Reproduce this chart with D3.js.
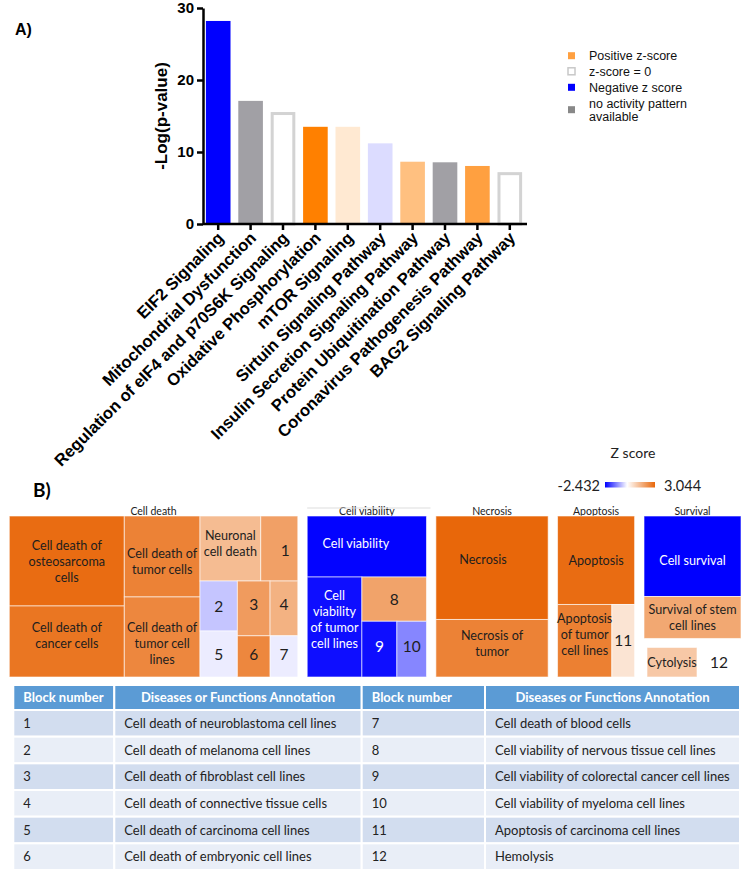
<!DOCTYPE html>
<html><head><meta charset="utf-8">
<script src="https://cdn.jsdelivr.net/npm/d3@7"></script>
<style>body{margin:0;background:#fff} svg{display:block}</style>
</head><body>
<svg id="c" width="747" height="872"></svg>
<script>
// ---------- Panel A data ----------
const pathways = ["EIF2 Signaling","Mitochondrial Dysfunction","Regulation of eIF4 and p70S6K Signaling","Oxidative Phosphorylation","mTOR Signaling","Sirtuin Signaling Pathway","Insulin Secretion Signaling Pathway","Protein Ubiquitination Pathway","Coronavirus Pathogenesis Pathway","BAG2 Signaling Pathway"];
const negLogP = [28.2, 17.1, 15.55, 13.5, 13.5, 11.2, 8.65, 8.57, 8.06, 7.2];
const pathwayZ = [-4.4, null, 0, 4.0, 0.7, -0.6, 2.0, null, 3.0, 0];
const yTicks = [0, 10, 20, 30];
const legendLabels = [["Positive z-score"],["z-score = 0"],["Negative z score"],["no activity pattern","available"]];
const legendKinds = ["pos","zero","neg","none"];

// ---------- Panel B data ----------
const zDomain = [-2.432, 3.044];
const cellDeath = {name:"Cell death", split:"x", children:[
  {split:"y", children:[
    {name:"Cell death of osteosarcoma cells", lines:["Cell death of","osteosarcoma","cells"], size:103.5, z:2.95},
    {name:"Cell death of cancer cells", lines:["Cell death of","cancer cells"], size:81.7, z:2.75}]},
  {split:"y", children:[
    {name:"Cell death of tumor cells", lines:["Cell death of","tumor cells"], size:61.3, z:2.5},
    {name:"Cell death of tumor cell lines", lines:["Cell death of","tumor cell","lines"], size:60.6, z:2.4}]},
  {split:"y", children:[
    {split:"x", children:[
      {name:"Neuronal cell death", lines:["Neuronal","cell death"], size:39.5, z:1.35},
      {name:"1", lines:["1"], size:24.1, z:1.9}]},
    {split:"x", children:[
      {split:"y", children:[
        {name:"2", lines:["2"], size:18.7, z:-0.55},
        {name:"5", lines:["5"], size:17.2, z:-0.18}]},
      {split:"y", children:[
        {split:"x", children:[
          {name:"3", lines:["3"], size:17.9, z:2.0},
          {name:"4", lines:["4"], size:15.2, z:1.55}]},
        {split:"x", children:[
          {name:"6", lines:["6"], size:13.5, z:2.4},
          {name:"7", lines:["7"], size:11.4, z:-0.18}]}]}]}]}]};
const cellViability = {name:"Cell viability", split:"y", children:[
  {name:"Cell viability", lines:["Cell viability"], size:72.8, z:-2.4},
  {split:"x", children:[
    {name:"Cell viability of tumor cell lines", lines:["Cell","viability","of tumor","cell lines"], size:54.7, z:-2.3},
    {split:"y", children:[
      {name:"8", lines:["8"], size:28.6, z:1.85},
      {split:"x", children:[
        {name:"9", lines:["9"], size:19.5, z:-2.3},
        {name:"10", lines:["10"], size:16.5, z:-1.15}]}]}]}]};
const necrosis = {name:"Necrosis", split:"y", children:[
  {name:"Necrosis", lines:["Necrosis"], size:116.2, z:3.044},
  {name:"Necrosis of tumor", lines:["Necrosis of","tumor"], size:64.6, z:2.5}]};
const apoptosis = {name:"Apoptosis", split:"y", children:[
  {name:"Apoptosis", lines:["Apoptosis"], size:68.2, z:2.95},
  {split:"x", children:[
    {name:"Apoptosis of tumor cell lines", lines:["Apoptosis","of tumor","cell lines"], size:39.4, z:2.55},
    {name:"11", lines:["11"], size:16.5, z:0.55}]}]};
const survival = {name:"Survival", split:"y", children:[
  {name:"Cell survival", lines:["Cell survival"], size:78.1, z:-2.432},
  {name:"Survival of stem cell lines", lines:["Survival of stem","cell lines"], size:40.7, z:1.75},
  {split:"x", inset:true, children:[
    {name:"Cytolysis", lines:["Cytolysis"], size:19.9, z:1.1},
    {name:"12", lines:["12"], size:17.5, z:0}]}]};

// ---------- Table data ----------
const tableHeaders = ["Block number","Diseases or Functions Annotation"];
const blockNumbers = [1,2,3,4,5,6,7,8,9,10,11,12];
const blockAnnotations = ["Cell death of neuroblastoma cell lines","Cell death of melanoma cell lines","Cell death of fibroblast cell lines","Cell death of connective tissue cells","Cell death of carcinoma cell lines","Cell death of embryonic cell lines","Cell death of blood cells","Cell viability of nervous tissue cell lines","Cell viability of colorectal cancer cell lines","Cell viability of myeloma cell lines","Apoptosis of carcinoma cell lines","Hemolysis"];

const svg = d3.select("#c");
const AR = "'Liberation Sans', Arial, sans-serif";
const CAL = "Lato, 'Open Sans', sans-serif";

// ================= Panel A =================
svg.append("text").attr("x",15).attr("y",35).attr("font-family",AR).attr("font-weight","bold")
  .attr("font-size",16).text("A)");

const x = d3.scaleBand().domain(pathways).range([202, 526]).paddingInner(0.24).paddingOuter(0.12);
const y = d3.scaleLinear().domain([0, 30]).range([224, 8]);

function barFill(z){
  if (z === null) return "#a1a0a5";
  if (z === 0) return "#ffffff";
  return z > 0 ? d3.interpolateRgb("#ffffff","#ff8000")(z/4.0) : d3.interpolateRgb("#ffffff","#0000ff")(-z/4.4);
}
const bars = pathways.map((p,i)=>({p, v:negLogP[i], z:pathwayZ[i]}));
svg.append("g").selectAll("rect").data(bars).join("rect")
  .attr("x", d => x(d.p) + (d.z===0 ? 1.5 : 0))
  .attr("width", d => x.bandwidth() - (d.z===0 ? 3 : 0))
  .attr("y", d => y(d.v) + (d.z===0 ? 1.5 : 0))
  .attr("height", d => y(0) - y(d.v) - (d.z===0 ? 1.5 : 0))
  .attr("fill", d => barFill(d.z))
  .attr("stroke", d => d.z===0 ? "#d3d3d3" : "none")
  .attr("stroke-width", 3);

const yAxis = svg.append("g").attr("transform","translate(203,0)")
  .call(d3.axisLeft(y).tickValues(yTicks).tickSize(6).tickSizeOuter(0).tickPadding(3));
yAxis.selectAll("path,line").attr("stroke","#000").attr("stroke-width",2.5);
yAxis.selectAll("text").attr("font-family",AR).attr("font-weight","bold").attr("font-size",15).attr("fill","#000");

const xAxis = svg.append("g").attr("transform","translate(0,224)")
  .call(d3.axisBottom(x).tickSize(6).tickSizeOuter(0));
xAxis.select(".domain").attr("d","M203,0H527");
xAxis.selectAll("path,line").attr("stroke","#000").attr("stroke-width",2.5);
xAxis.selectAll("text").attr("x",0).attr("y",0).attr("dy",0)
  .attr("text-anchor","end").attr("transform","translate(6.5,15) rotate(-45)")
  .attr("font-family",AR).attr("font-weight","bold").attr("font-size",16.6).attr("fill","#000");

svg.append("text").attr("transform","translate(167,116) rotate(-90)")
  .attr("text-anchor","middle").attr("font-family",AR).attr("font-weight","bold").attr("font-size",17)
  .text("-Log(p-value)");

// legend
const legColor = {pos:"#ffa040", zero:"#ffffff", neg:"#0000ff", none:"#888888"};
const legY = [55.7, 71.3, 87.3, 109.7];
legendKinds.forEach((k,i)=>{
  svg.append("rect").attr("x",568).attr("y",legY[i]-3.5).attr("width",7).attr("height",7)
    .attr("fill",legColor[k]).attr("stroke", k==="zero" ? "#c8c8c8" : "none").attr("stroke-width",1.5);
  const lines = legendLabels[i];
  const t = svg.append("text").attr("font-family",AR).attr("font-size",12.5).attr("fill","#111");
  lines.forEach((ln,j)=>{
    t.append("tspan").attr("x",589).attr("y", legY[i] + 4.5 - (lines.length-1)*6.5 + j*13).text(ln);
  });
});

// ================= Panel B =================
svg.append("text").attr("x",33).attr("y",497).attr("font-family",CAL).attr("font-weight","bold")
  .attr("font-size",19).text("B)");

// Z score legend
svg.append("text").attr("x",633).attr("y",458).attr("text-anchor","middle").attr("font-family",CAL)
  .attr("font-size",14).attr("fill","#222").text("Z score");
const defs = svg.append("defs");
const grad = defs.append("linearGradient").attr("id","zg");
const color = d3.scaleLinear().domain([zDomain[0], 0, zDomain[1]]).range(["#0000ff","#ffffff","#e8670a"]).clamp(true);
[zDomain[0], 0, zDomain[1]].forEach(v=>{
  grad.append("stop").attr("offset", ((v - zDomain[0])/(zDomain[1]-zDomain[0])*100)+"%").attr("stop-color", color(v));
});
svg.append("rect").attr("x",605).attr("y",482).attr("width",50).attr("height",5.5).attr("fill","url(#zg)");
svg.append("text").attr("x",600).attr("y",491).attr("text-anchor","end").attr("font-family",CAL)
  .attr("font-size",14.5).attr("fill","#222").text(zDomain[0].toFixed(3));
svg.append("text").attr("x",664).attr("y",491).attr("font-family",CAL)
  .attr("font-size",14.5).attr("fill","#222").text(zDomain[1].toFixed(3));

// treemap
const GAP = 9.4;
function tile(node, x0, y0, x1, y1){
  if (node.depth === 0){
    const k = (x1 - x0 - GAP*(node.children.length-1)) / node.value;
    let cx = x0;
    node.children.forEach(c=>{ c.x0 = cx; c.x1 = cx + c.value*k; c.y0 = y0; c.y1 = y1; cx = c.x1 + GAP; });
    return;
  }
  (node.data.split === "x" ? d3.treemapDice : d3.treemapSlice)(node, x0, y0, x1, y1);
}
const root = d3.hierarchy({children:[cellDeath, cellViability, necrosis, apoptosis, survival]})
  .sum(d => d.children ? 0 : d.size);
d3.treemap().tile(tile).size([731.7, 172]).round(false)
  .paddingTop(n => n.depth===1 ? 11 : (n.data.inset ? 9 : 0))
  .paddingLeft(n => n.data.inset ? 3 : 0)
  (root);

const tm = svg.append("g").attr("transform","translate(9.3,505)");
// group titles
root.children.forEach(g=>{
  tm.append("text").attr("x",(g.x0+g.x1)/2).attr("y",g.y0+9.5).attr("text-anchor","middle")
    .attr("font-family",CAL).attr("font-size",10.5).attr("fill","#222").text(g.data.name);
});
tm.append("line").attr("x1",root.children[1].x0).attr("x2",root.children[1].x1+4)
  .attr("y1",3).attr("y2",3).attr("stroke","#dddddd").attr("stroke-width",1);

const leaves = root.leaves();
tm.selectAll("rect.tile").data(leaves).join("rect").attr("class","tile")
  .attr("x",d=>d.x0).attr("y",d=>d.y0).attr("width",d=>d.x1-d.x0).attr("height",d=>d.y1-d.y0)
  .attr("fill",d=>color(d.data.z))
  .attr("stroke",d=> d.data.z===0 ? "none" : "rgba(255,255,255,0.6)").attr("stroke-width",1);

// label nudges (label placement of the original, in px)
const labelShift = {"Cell death of cancer cells":[0,-6], "Cell death of tumor cell lines":[0,6],
  "Cell death of tumor cells":[0,5], "Neuronal cell death":[0,-5], "Cell viability of tumor cell lines":[0,-8],
  "Necrosis":[-9,-8], "Necrosis of tumor":[0,-5], "Apoptosis of tumor cell lines":[0,-6.5],
  "Cell survival":[0,4], "Cell viability":[-11,-3], "1":[6,2], "3":[0,-4], "4":[0,-4], "9":[0,-3], "10":[0,-3], "6":[0,-2], "7":[0,-2]};
leaves.forEach(d=>{
  const lines = d.data.lines;
  const isNum = lines.length===1 && /^\d+$/.test(lines[0]);
  const fs = isNum ? 15.5 : 12.6, lh = 16;
  const sh = labelShift[d.data.name] || [0,0];
  const cx = (d.x0+d.x1)/2 + sh[0], cy = (d.y0+d.y1)/2 + sh[1];
  const t = tm.append("text").attr("text-anchor","middle").attr("font-family",CAL).attr("font-size",fs)
    .attr("fill", d.data.z < -1.5 ? "#ffffff" : "#1e1e1e");
  lines.forEach((ln,j)=>{
    t.append("tspan").attr("x",cx).attr("y", cy + fs*0.36 - (lines.length-1)*lh/2 + j*lh).text(ln);
  });
});

// ================= Table =================
const colX = [13.3, 114.3, 361.7, 485, 740];
const headTop = 685, headBot = 710, rowH = 26.67;
const tb = svg.append("g");
for (let c=0;c<4;c++){
  tb.append("rect").attr("x",colX[c]).attr("y",headTop).attr("width",colX[c+1]-colX[c]).attr("height",headBot-headTop)
    .attr("fill","#5b9bd5").attr("stroke","#ffffff").attr("stroke-width",2);
  const txt = tableHeaders[c%2];
  const centered = c%2===1;
  tb.append("text").attr("x", centered ? (colX[c]+colX[c+1])/2 : colX[c]+10)
    .attr("y",(headTop+headBot)/2+4.5).attr("text-anchor", centered ? "middle":"start")
    .attr("font-family",CAL).attr("font-weight","bold").attr("font-size",13).attr("fill","#ffffff").text(txt);
}
for (let r=0;r<6;r++){
  const y0 = headBot + r*rowH;
  const fill = r%2===0 ? "#d2ddef" : "#e9eef7";
  for (let c=0;c<4;c++){
    tb.append("rect").attr("x",colX[c]).attr("y",y0).attr("width",colX[c+1]-colX[c]).attr("height",rowH)
      .attr("fill",fill).attr("stroke","#ffffff").attr("stroke-width",2);
    const idx = r + (c>=2 ? 6 : 0);
    const txt = c%2===0 ? String(blockNumbers[idx]) : blockAnnotations[idx];
    tb.append("text").attr("x",colX[c]+10).attr("y",y0+rowH/2+4.5)
      .attr("font-family",CAL).attr("font-size",13).attr("fill","#222").text(txt);
  }
}
</script>
</body></html>
